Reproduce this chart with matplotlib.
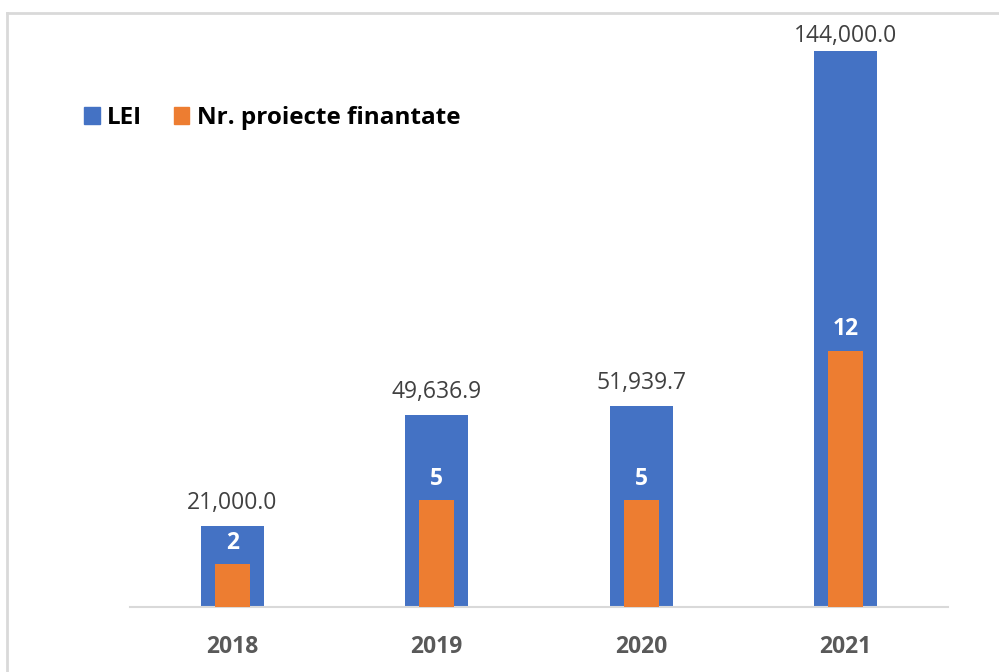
import matplotlib
matplotlib.use("Agg")
import matplotlib.pyplot as plt
from matplotlib.lines import Line2D
from matplotlib.patches import Patch

years = ["2018", "2019", "2020", "2021"]
lei = [21000.0, 49636.9, 51939.7, 144000.0]
projects = [2, 5, 5, 12]

BLUE = "#4472C4"
ORANGE = "#ED7D31"
FONT = ["Open Sans", "DejaVu Sans"]

W, H = 999, 672
fig = plt.figure(figsize=(W / 100, H / 100), dpi=100)

left, right, bottom, top = 130, 948, 607, 51
ax = fig.add_axes([left / W, (H - bottom) / H, (right - left) / W, (bottom - top) / H])
ax2 = ax.twinx()

x = list(range(len(years)))
bars1 = ax.bar(x, lei, width=0.31, color=BLUE, zorder=2)
bars2 = ax2.bar(x, projects, width=0.17, color=ORANGE, zorder=3)

ax.set_xlim(-0.5, 3.5)
ax2.set_xlim(-0.5, 3.5)
ax.set_ylim(0, 144000)
ax2.set_ylim(0, 26.07)

for a in (ax, ax2):
    for s in a.spines.values():
        s.set_visible(False)
    a.set_yticks([])
ax.spines["bottom"].set_visible(True)
ax.spines["bottom"].set_color("#d9d9d9")
ax.spines["bottom"].set_linewidth(1.5)

ax.set_xticks(x)
ax.set_xticklabels(years, fontsize=16.5, fontweight="bold", color="#595959", family=FONT)
ax.tick_params(axis="x", length=0, pad=20)

vmax = max(lei)
for xi, v in zip(x, lei):
    off = 2 if v == vmax else 8
    ax.annotate(f"{v:,.1f}", (xi, v), xytext=(0, off), textcoords="offset points",
                ha="center", va="bottom", fontsize=16.5, color="#404040",
                family=FONT, annotation_clip=False)
for xi, v in zip(x, projects):
    ax2.annotate(f"{v}", (xi, v), xytext=(0, 7), textcoords="offset points",
                 ha="center", va="bottom", fontsize=16.5, fontweight="bold",
                 color="white", family=FONT, annotation_clip=False, zorder=5)

handles = [Patch(color=BLUE), Patch(color=ORANGE)]
fig.legend(handles, ["LEI", "Nr. proiecte finantate"], loc="center left",
           bbox_to_anchor=(62 / W, (H - 118) / H), ncol=2, frameon=False,
           prop={"family": FONT, "weight": "bold", "size": 17.5},
           handlelength=0.65, handleheight=0.65, handletextpad=0.3, columnspacing=1.3)

# chart border
fig.add_artist(Line2D([7 / W, 7 / W], [0, (H - 13) / H], color="#d9d9d9", lw=2,
                      transform=fig.transFigure))
fig.add_artist(Line2D([7 / W, 1], [(H - 13) / H, (H - 13) / H], color="#d9d9d9", lw=2,
                      transform=fig.transFigure))

fig.savefig("out.png", dpi=100)
